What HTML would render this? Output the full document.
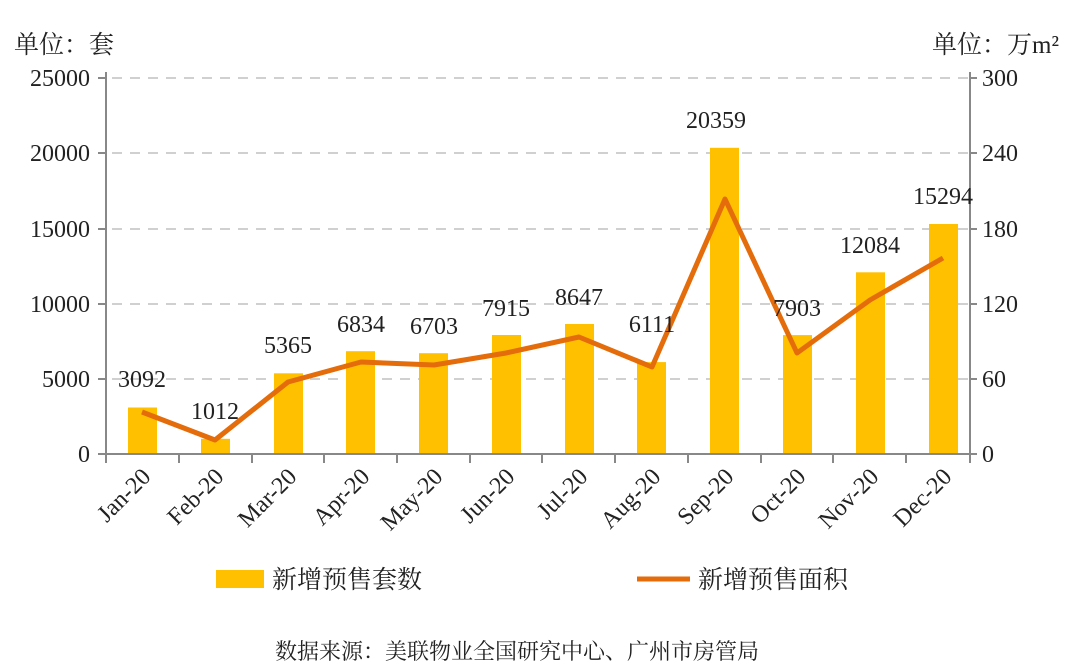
<!DOCTYPE html>
<html><head><meta charset="utf-8"><style>
html,body{margin:0;padding:0;background:#fff;}
svg text{font-family:"Liberation Serif","Noto Serif CJK SC",serif;fill:#222;}
</style></head><body>
<svg width="1080" height="666" viewBox="0 0 1080 666" xmlns="http://www.w3.org/2000/svg">
<text x="14" y="53" font-size="25">单位：套</text>
<text x="932" y="53" font-size="25">单位：万m²</text>
<g stroke="#d0d0d0" stroke-width="2" stroke-dasharray="10,8">
<line x1="112" y1="78" x2="968" y2="78"/>
<line x1="112" y1="153" x2="968" y2="153"/>
<line x1="112" y1="229" x2="968" y2="229"/>
<line x1="112" y1="304" x2="968" y2="304"/>
<line x1="112" y1="379" x2="968" y2="379"/>
</g>
<g font-size="24" text-anchor="end">
<text x="90" y="86">25000</text><text x="90" y="161">20000</text><text x="90" y="237">15000</text>
<text x="90" y="312">10000</text><text x="90" y="387">5000</text><text x="90" y="462">0</text>
</g>
<g font-size="24">
<text x="982" y="86">300</text><text x="982" y="161">240</text><text x="982" y="237">180</text>
<text x="982" y="312">120</text><text x="982" y="387">60</text><text x="982" y="462">0</text>
</g>
<g fill="#FFC000">
<rect x="128" y="407.5" width="29" height="46.5"/>
<rect x="201" y="438.8" width="29" height="15.2"/>
<rect x="274" y="373.3" width="29" height="80.7"/>
<rect x="346" y="351.2" width="29" height="102.8"/>
<rect x="419" y="353.2" width="29" height="100.8"/>
<rect x="492" y="335" width="29" height="119"/>
<rect x="565" y="324" width="29" height="130"/>
<rect x="637" y="362.1" width="29" height="91.9"/>
<rect x="710" y="147.8" width="29" height="306.2"/>
<rect x="783" y="335.1" width="29" height="118.9"/>
<rect x="856" y="272.3" width="29" height="181.7"/>
<rect x="929" y="224" width="29" height="230"/>
</g>
<g stroke="#888" stroke-width="2" fill="none">
<line x1="106" y1="72" x2="106" y2="455"/>
<line x1="970" y1="72" x2="970" y2="455"/>
<line x1="106" y1="454" x2="970" y2="454"/>
<line x1="98" y1="78" x2="106" y2="78"/><line x1="98" y1="153" x2="106" y2="153"/><line x1="98" y1="229" x2="106" y2="229"/><line x1="98" y1="304" x2="106" y2="304"/><line x1="98" y1="379" x2="106" y2="379"/><line x1="98" y1="454" x2="106" y2="454"/>
<line x1="970" y1="78" x2="977" y2="78"/><line x1="970" y1="153" x2="977" y2="153"/><line x1="970" y1="229" x2="977" y2="229"/><line x1="970" y1="304" x2="977" y2="304"/><line x1="970" y1="379" x2="977" y2="379"/><line x1="970" y1="454" x2="977" y2="454"/>
<path d="M106 454v9M179 454v9M252 454v9M324 454v9M397 454v9M470 454v9M542 454v9M615 454v9M688 454v9M761 454v9M833 454v9M906 454v9M970 454v9"/>
</g>
<polyline fill="none" stroke="#E46C0A" stroke-width="5" stroke-linejoin="round" points="142,412 215,440 288,382 361,362 434,365 506,353 579,337 652,367 725,199 797,353 870,300 943,258"/>
<g font-size="24" text-anchor="middle">
<text x="142" y="387">3092</text><text x="215" y="419">1012</text><text x="288" y="353">5365</text>
<text x="361" y="332">6834</text><text x="434" y="334">6703</text><text x="506" y="316">7915</text>
<text x="579" y="305">8647</text><text x="652" y="332">6111</text><text x="716" y="128">20359</text>
<text x="797" y="316">7903</text><text x="870" y="253">12084</text><text x="943" y="204">15294</text>
</g>
<g font-size="24" text-anchor="end">
<text transform="translate(152,478) rotate(-45)">Jan-20</text>
<text transform="translate(225,478) rotate(-45)">Feb-20</text>
<text transform="translate(298,478) rotate(-45)">Mar-20</text>
<text transform="translate(371,478) rotate(-45)">Apr-20</text>
<text transform="translate(444,478) rotate(-45)">May-20</text>
<text transform="translate(516,478) rotate(-45)">Jun-20</text>
<text transform="translate(589,478) rotate(-45)">Jul-20</text>
<text transform="translate(662,478) rotate(-45)">Aug-20</text>
<text transform="translate(735,478) rotate(-45)">Sep-20</text>
<text transform="translate(807,478) rotate(-45)">Oct-20</text>
<text transform="translate(880,478) rotate(-45)">Nov-20</text>
<text transform="translate(953,478) rotate(-45)">Dec-20</text>
</g>
<rect x="216" y="570" width="48" height="18" fill="#FFC000"/>
<text x="272" y="588" font-size="25">新增预售套数</text>
<line x1="637" y1="579" x2="690" y2="579" stroke="#E46C0A" stroke-width="5"/>
<text x="698" y="588" font-size="25">新增预售面积</text>
<text x="275" y="659" font-size="22">数据来源：美联物业全国研究中心、广州市房管局</text>
</svg>
</body></html>
